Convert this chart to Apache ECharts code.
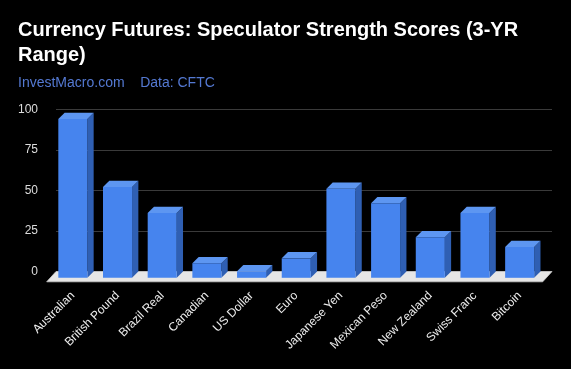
<!DOCTYPE html>
<html>
<head>
<meta charset="utf-8">
<script src="https://cdn.jsdelivr.net/npm/echarts@6/dist/echarts.min.js"></script>
<style>
html,body{margin:0;padding:0;background:#000;}
#chart{width:571px;height:369px;}
</style>
</head>
<body>
<div id="chart"></div>
<script>
const titleText = 'Currency Futures: Speculator Strength Scores (3-YR\nRange)';
const subtitleText = 'InvestMacro.com    Data: CFTC';
const categories = ['Australian', 'British Pound', 'Brazil Real', 'Canadian', 'US Dollar', 'Euro', 'Japanese Yen', 'Mexican Peso', 'New Zealand', 'Swiss Franc', 'Bitcoin'];
const scores = [98, 56, 40, 9, 4, 12, 55, 46, 25, 40, 19];
const yTicks = [0, 25, 50, 75, 100];

const DX = 6.3, DY = 6.3;          // bar depth
const FDX = -9.3, FDY = 10.3;      // floor depth

const chart = echarts.init(document.getElementById('chart'), null, {renderer: 'canvas'});
chart.setOption({
  backgroundColor: '#000',
  animation: false,
  title: [
    {text: titleText, left: 18, top: 18, padding: 0,
     textStyle: {color: '#fff', fontFamily: 'Liberation Sans, Arial', fontWeight: 'bold', fontSize: 20, lineHeight: 25}},
    {text: subtitleText, left: 18, top: 75, padding: 0,
     textStyle: {color: '#5479d2', fontFamily: 'Liberation Sans, Arial', fontWeight: 'normal', fontSize: 14, lineHeight: 16}}
  ],
  grid: [
    {left: 56, top: 109.5, width: 496, height: 162},
    {left: 50.5, top: 115.8, width: 491.5, height: 162}
  ],
  xAxis: [
    {type: 'value', gridIndex: 0, min: 0, max: 1, show: false},
    {type: 'category', gridIndex: 1, data: categories,
     axisLine: {show: false}, axisTick: {show: false},
     axisLabel: {interval: 0, rotate: 45, margin: 16, color: '#eee', fontSize: 12, fontFamily: 'Liberation Sans, Arial'}}
  ],
  yAxis: [
    {type: 'value', gridIndex: 0, min: yTicks[0], max: yTicks[yTicks.length - 1], interval: 25,
     axisLine: {show: false}, axisTick: {show: false},
     splitLine: {lineStyle: {color: '#3a3a3a', width: 1}},
     axisLabel: {margin: 18, color: '#ddd', fontSize: 12, fontFamily: 'Liberation Sans, Arial'}},
    {type: 'value', gridIndex: 1, min: 0, max: 100, show: false}
  ],
  series: [
    {
      type: 'custom', xAxisIndex: 0, yAxisIndex: 0, z: 2,
      data: [[0, 0]],
      renderItem: function (params, api) {
        const cs = params.coordSys;
        const by = cs.y + cs.height;
        return {
          type: 'polygon',
          shape: {points: [[cs.x, by], [cs.x + cs.width, by], [cs.x + cs.width + FDX, by + FDY], [cs.x + FDX, by + FDY]]},
          style: {fill: '#e6e6e6', stroke: '#c8c8c8', lineWidth: 0.8}
        };
      }
    },
    {
      type: 'custom', xAxisIndex: 1, yAxisIndex: 1, z: 3,
      encode: {x: 0, y: 1},
      data: categories.map((c, i) => [i, scores[i]]),
      renderItem: function (params, api) {
        const idx = api.value(0), v = api.value(1);
        const top = api.coord([idx, v]);
        const bot = api.coord([idx, 0]);
        const bw = api.size([1, 0])[0] * 0.65;
        const x0 = top[0] - bw / 2, x1 = top[0] + bw / 2;
        const ty = top[1], byy = bot[1];
        return {
          type: 'group',
          children: [
            {type: 'polygon', shape: {points: [[x1, ty], [x1 + DX, ty - DY], [x1 + DX, byy - DY], [x1, byy]]},
             style: {fill: '#2f5fb3'}},
            {type: 'polygon', shape: {points: [[x0, ty], [x1, ty], [x1 + DX, ty - DY], [x0 + DX, ty - DY]]},
             style: {fill: '#5d96f1'}},
            {type: 'rect', shape: {x: x0, y: ty, width: bw, height: byy - ty},
             style: {fill: '#4684ee'}}
          ]
        };
      }
    }
  ]
});
</script>
</body>
</html>
